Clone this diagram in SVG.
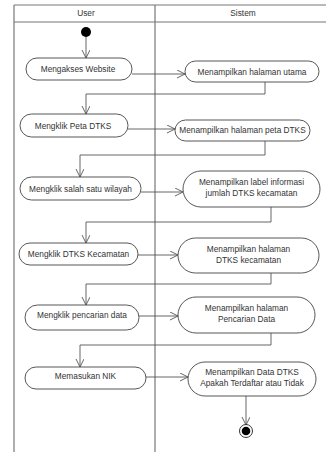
<svg xmlns="http://www.w3.org/2000/svg" width="326" height="452" viewBox="0 0 326 452">
<defs>
<marker id="arr" markerWidth="10" markerHeight="10" refX="8" refY="4" orient="auto" markerUnits="userSpaceOnUse">
<path d="M0,0 L8,4 L0,8" fill="none" stroke="#555" stroke-width="0.9"/>
</marker>
</defs>
<style>
.lane{stroke:#777;stroke-width:1.2;fill:none}
.act{fill:#fff;stroke:#444;stroke-width:0.9}
.t{font-family:"Liberation Sans",Arial,sans-serif;font-size:8.3px;fill:#333;text-anchor:middle}
.c{fill:none;stroke:#555;stroke-width:0.9}
</style>
<rect width="326" height="452" fill="#fff"/>
<g id="swimlanes">
<line class="lane" x1="14" y1="5" x2="326" y2="5"/>
<line class="lane" x1="14" y1="22" x2="326" y2="22"/>
<line class="lane" x1="14" y1="5" x2="14" y2="452"/>
<line class="lane" x1="155" y1="5" x2="155" y2="452"/>
<text class="t" x="86" y="16">User</text>
<text class="t" x="243" y="16">Sistem</text>
</g>
<g id="connectors">
<line class="c" x1="86" y1="36" x2="86" y2="58" marker-end="url(#arr)"/>
<line class="c" x1="132" y1="74" x2="185" y2="74" marker-end="url(#arr)"/>
<polyline class="c" points="265,81 265,94 86,94 86,114" marker-end="url(#arr)"/>
<line class="c" x1="128" y1="129" x2="175" y2="129" marker-end="url(#arr)"/>
<polyline class="c" points="265,141 265,155 80,155 80,177" marker-end="url(#arr)"/>
<line class="c" x1="141" y1="192" x2="183" y2="192" marker-end="url(#arr)"/>
<polyline class="c" points="271,207 271,222 86,222 86,243" marker-end="url(#arr)"/>
<line class="c" x1="138" y1="255" x2="178" y2="255" marker-end="url(#arr)"/>
<polyline class="c" points="271,273 271,284 86,284 86,305" marker-end="url(#arr)"/>
<line class="c" x1="139" y1="316" x2="178" y2="316" marker-end="url(#arr)"/>
<polyline class="c" points="271,333 271,345 80,345 80,367" marker-end="url(#arr)"/>
<line class="c" x1="146" y1="377" x2="188" y2="377" marker-end="url(#arr)"/>
<line class="c" x1="246" y1="396" x2="246" y2="425" marker-end="url(#arr)"/>
</g>
<g id="start"><circle cx="86" cy="32" r="5" fill="#000"/></g>
<g id="a1"><rect class="act" x="26" y="58" width="106" height="22" rx="11"/><text class="t" x="78" y="72">Mengakses Website</text></g>
<g id="s1"><rect class="act" x="185" y="61" width="134" height="21" rx="10.5"/><text class="t" x="252" y="74.5">Menampilkan halaman utama</text></g>
<g id="a2"><rect class="act" x="20" y="114" width="108" height="23" rx="11.5"/><text class="t" x="73" y="128.5">Mengklik Peta DTKS</text></g>
<g id="s2"><rect class="act" x="175" y="120" width="135" height="21" rx="10.5"/><text class="t" x="242.5" y="133">Menampilkan halaman peta DTKS</text></g>
<g id="a3"><rect class="act" x="20" y="177" width="121" height="23" rx="11.5"/><text class="t" x="80.5" y="191.5">Mengklik salah satu wilayah</text></g>
<g id="s3"><rect class="act" x="183" y="171" width="137" height="36" rx="18"/><text class="t" x="251.5" y="185">Menampilkan label informasi</text><text class="t" x="251.5" y="195.5">jumlah DTKS kecamatan</text></g>
<g id="a4"><rect class="act" x="19" y="243" width="119" height="22" rx="11"/><text class="t" x="78.5" y="257">Mengklik DTKS Kecamatan</text></g>
<g id="s4"><rect class="act" x="178" y="238" width="141" height="35" rx="17.5"/><text class="t" x="248.5" y="252">Menampilkan halaman</text><text class="t" x="248.5" y="263">DTKS kecamatan</text></g>
<g id="a5"><rect class="act" x="25" y="305" width="114" height="25" rx="12.5"/><text class="t" x="82" y="318">Mengklik pencarian data</text></g>
<g id="s5"><rect class="act" x="178" y="297" width="137" height="36" rx="18"/><text class="t" x="246.5" y="311">Menampilkan halaman</text><text class="t" x="246.5" y="322">Pencarian Data</text></g>
<g id="a6"><rect class="act" x="25" y="367" width="121" height="22" rx="11"/><text class="t" x="85.5" y="379">Memasukan NIK</text></g>
<g id="s6"><rect class="act" x="188" y="362" width="128" height="34" rx="17"/><text class="t" x="252" y="374.5">Menampilkan Data DTKS</text><text class="t" x="252" y="385.5">Apakah Terdaftar atau Tidak</text></g>
<g id="end"><circle cx="246" cy="431" r="6.5" fill="#fff" stroke="#333" stroke-width="1"/><circle cx="246" cy="431" r="4.3" fill="#000"/></g>
</svg>
